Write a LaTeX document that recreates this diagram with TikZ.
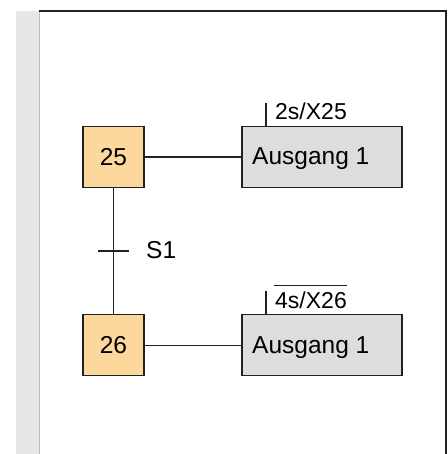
\documentclass[tikz,border=0pt]{standalone}
\usepackage{fontspec}
\setmainfont{Liberation Sans}
\definecolor{stepfill}{HTML}{FDD89C}
\definecolor{actfill}{HTML}{DCDDDF}
\definecolor{band}{HTML}{E6E7E8}
\definecolor{ink}{HTML}{231F20}
\newcommand{\bigtxt}{\fontsize{24.5}{28}\selectfont}
\newcommand{\qualtxt}{\fontsize{23}{27}\selectfont}
\begin{document}
\begin{tikzpicture}[x=1pt,y=-1pt,
  stepbox/.style={draw=ink,line width=1.3pt,fill=stepfill,minimum width=61pt,minimum height=61pt,inner sep=0pt,font=\bigtxt},
  actbox/.style={draw=ink,line width=1.3pt,fill=actfill,minimum width=160pt,minimum height=61pt,inner sep=0pt},
  wire/.style={draw=ink,line width=1.1pt},
  lbl/.style={anchor=base west,inner sep=0pt,font=\bigtxt},
  qual/.style={anchor=base west,inner sep=0pt,font=\qualtxt}]
\useasboundingbox (0,0) rectangle (447,454);
\fill[white] (0,0) rectangle (447,454);
\fill[band] (16,11) rectangle (39,454);
\draw[line width=0.8pt,black!25] (39.3,11) -- (39.3,454);
\draw[ink,line width=1.1pt] (39,11) -- (446,11) -- (446,454);
% steps
\node[stepbox] (s25) at (113.5,157) {25};
\node[stepbox] (s26) at (113.5,345.2) {26};
\node[actbox] (a1) at (322,157) {};
\node[lbl] (t1) at (252,164.8) {Ausgang 1};
\node[actbox] (a2) at (322,345.2) {};
\node[lbl] (t2) at (252,353) {Ausgang 1};
\draw[wire] (s25) -- (a1);
\draw[wire] (s26) -- (a2);
\draw[wire] (s25) -- (s26);
% transition
\coordinate (trL) at (98,251);
\coordinate (trR) at (129,251);
\draw[wire] (trL) -- (trR);
\node[lbl] (s1) at (146,258.5) {S1};
% qualifiers
\coordinate (q1) at (266,103);
\draw[wire] (q1) -- (q1 |- a1.north);
\node[qual] (q1t) at (275,119.5) {2s/X25};
\coordinate (q2) at (266,291);
\draw[wire] (q2) -- (q2 |- a2.north);
\node[qual] (q2t) at (275,308) {4s/X26};
\draw[ink,line width=1pt] (273.5,285) -- (q2t.base east |- 0,285);
\end{tikzpicture}
\end{document}
